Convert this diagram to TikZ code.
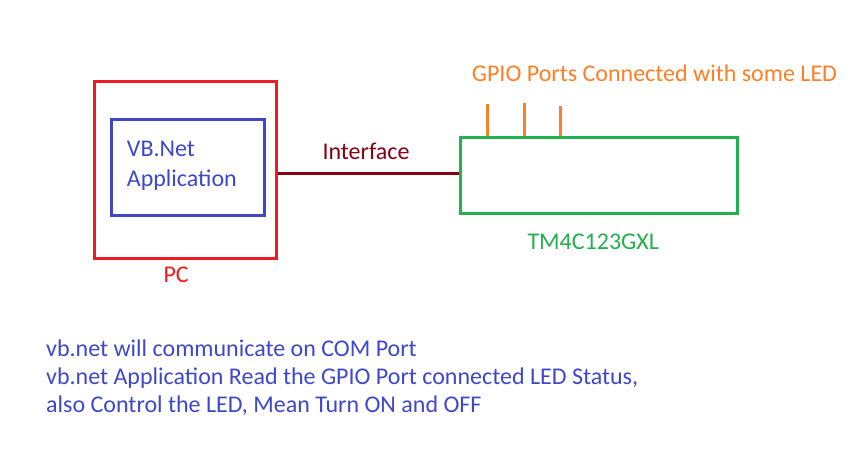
\documentclass[tikz,border=0pt]{standalone}
\usepackage{fontspec}
\setmainfont{Carlito}

\definecolor{pcred}{HTML}{ED1C24}
\definecolor{appblue}{HTML}{3F48CC}
\definecolor{boardgreen}{HTML}{22B14C}
\definecolor{gpioorange}{HTML}{FF7F27}
\definecolor{linkred}{HTML}{880015}

\begin{document}
\begin{tikzpicture}[x=1pt,y=-1pt,
  box/.style={draw, line width=3pt, inner sep=0pt},
  lbl/.style={anchor=base west, inner sep=0pt, font=\fontsize{24}{28}\selectfont}]

% Canvas (pixel units, y downwards)
\fill[white] (0,0) rectangle (858,453);
\useasboundingbox (0,0) rectangle (858,453);

% PC box and the application inside it
\node[box, pcred, minimum width=182pt, minimum height=177pt] (pc) at (185,170.4) {};
\node[box, appblue, minimum width=153pt, minimum height=96pt] (app) at (187.7,167.2) {};
% multi-line nodes: base anchor sits on the last line
\node[lbl, appblue, align=left, font=\fontsize{24}{29.3}\selectfont] (appname) at (126.7,186) {VB.Net\\Application};
\node[lbl, pcred] (pclabel) at (163.3,282.7) {PC};

% Launchpad board
\node[box, boardgreen, minimum width=277pt, minimum height=76pt] (board) at (598.8,175.9) {};
\node[lbl, boardgreen] (boardlabel) at (527.3,249) {TM4C123GXL};

% Interface line between PC and board
\coordinate (ifc) at (0,173.3);
\draw[linkred, line width=3pt] (pc.east |- ifc) -- (board.west |- ifc);
\node[lbl, linkred] (ifclabel) at (322.3,159.3) {Interface};

% GPIO pins on top of the board
\coordinate (p1) at (487.7,104);
\coordinate (p2) at (524.3,103.3);
\coordinate (p3) at (560.3,106);
\foreach \p in {p1,p2,p3}
  \draw[gpioorange, line width=3pt] (\p) -- (\p |- board.north);
\node[lbl, gpioorange] (gpiolabel) at (471.7,81.7) {GPIO Ports Connected with some LED};

% Notes
\node[lbl, appblue, align=left] (notes) at (46,412.3) {vb.net will communicate on COM Port\\vb.net Application Read the GPIO Port connected LED Status,\\also Control the LED, Mean Turn ON and OFF};

\end{tikzpicture}
\end{document}
